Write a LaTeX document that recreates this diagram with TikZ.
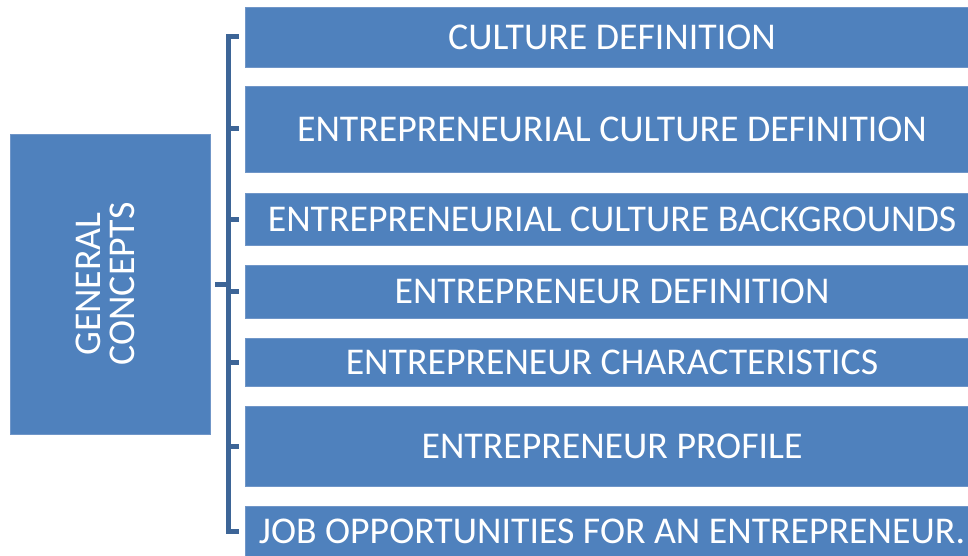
\documentclass[tikz,border=0pt]{standalone}
\usepackage{fontspec}
\setmainfont{Carlito}
\usepackage{xcolor}
\definecolor{boxblue}{HTML}{4F81BD}
\definecolor{boxedge}{HTML}{7096C8}
\definecolor{barblue}{HTML}{3D6597}

\begin{document}
\begin{tikzpicture}[x=1pt,y=-1pt,
    topic/.style={draw=boxedge,line width=0.8pt,fill=boxblue,text=white,
      minimum width=734pt,font=\fontsize{37.8}{40}\selectfont},
    concept/.style={draw=boxedge,line width=0.8pt,fill=boxblue,text=white,
      minimum width=200pt,minimum height=300pt,align=center,
      font=\fontsize{37.8}{38}\selectfont},
    bar/.style={draw=barblue,line width=5pt}]
  \useasboundingbox (0,0) rectangle (968,556);
  \node[concept] (G) at (110,284) {\rotatebox{90}{\begin{tabular}{@{}c@{}}GENERAL\\[-4pt]CONCEPTS\end{tabular}}};
  \node[topic,minimum height=60pt] (T1) at (612,37) {CULTURE DEFINITION};
  \node[topic,minimum height=86pt] (T2) at (612,129) {ENTREPRENEURIAL CULTURE DEFINITION};
  \node[topic,minimum height=52pt] (T3) at (612,219) {ENTREPRENEURIAL CULTURE BACKGROUNDS};
  \node[topic,minimum height=53pt] (T4) at (612,291.5) {ENTREPRENEUR DEFINITION};
  \node[topic,minimum height=48pt] (T5) at (612,362) {ENTREPRENEUR CHARACTERISTICS};
  \node[topic,minimum height=80pt] (T6) at (612,446) {ENTREPRENEUR PROFILE};
  \node[topic,minimum height=50pt] (T7) at (612,531) {JOB OPPORTUNITIES FOR AN ENTREPRENEUR.};
  % bracket
  \coordinate (top) at (228,37);
  \coordinate (bot) at (228,531);
  \draw[bar] ([xshift=-6pt]T1.west) -- (top) -- (bot) -- ([xshift=-6pt]T7.west);
  \foreach \t in {T2,T3,T4,T5,T6}
    \draw[bar] (top |- \t.west) -- ([xshift=-6pt]\t.west);
  \draw[bar] ([xshift=5pt]G.east) -- (top |- G.east);
\end{tikzpicture}
\end{document}
